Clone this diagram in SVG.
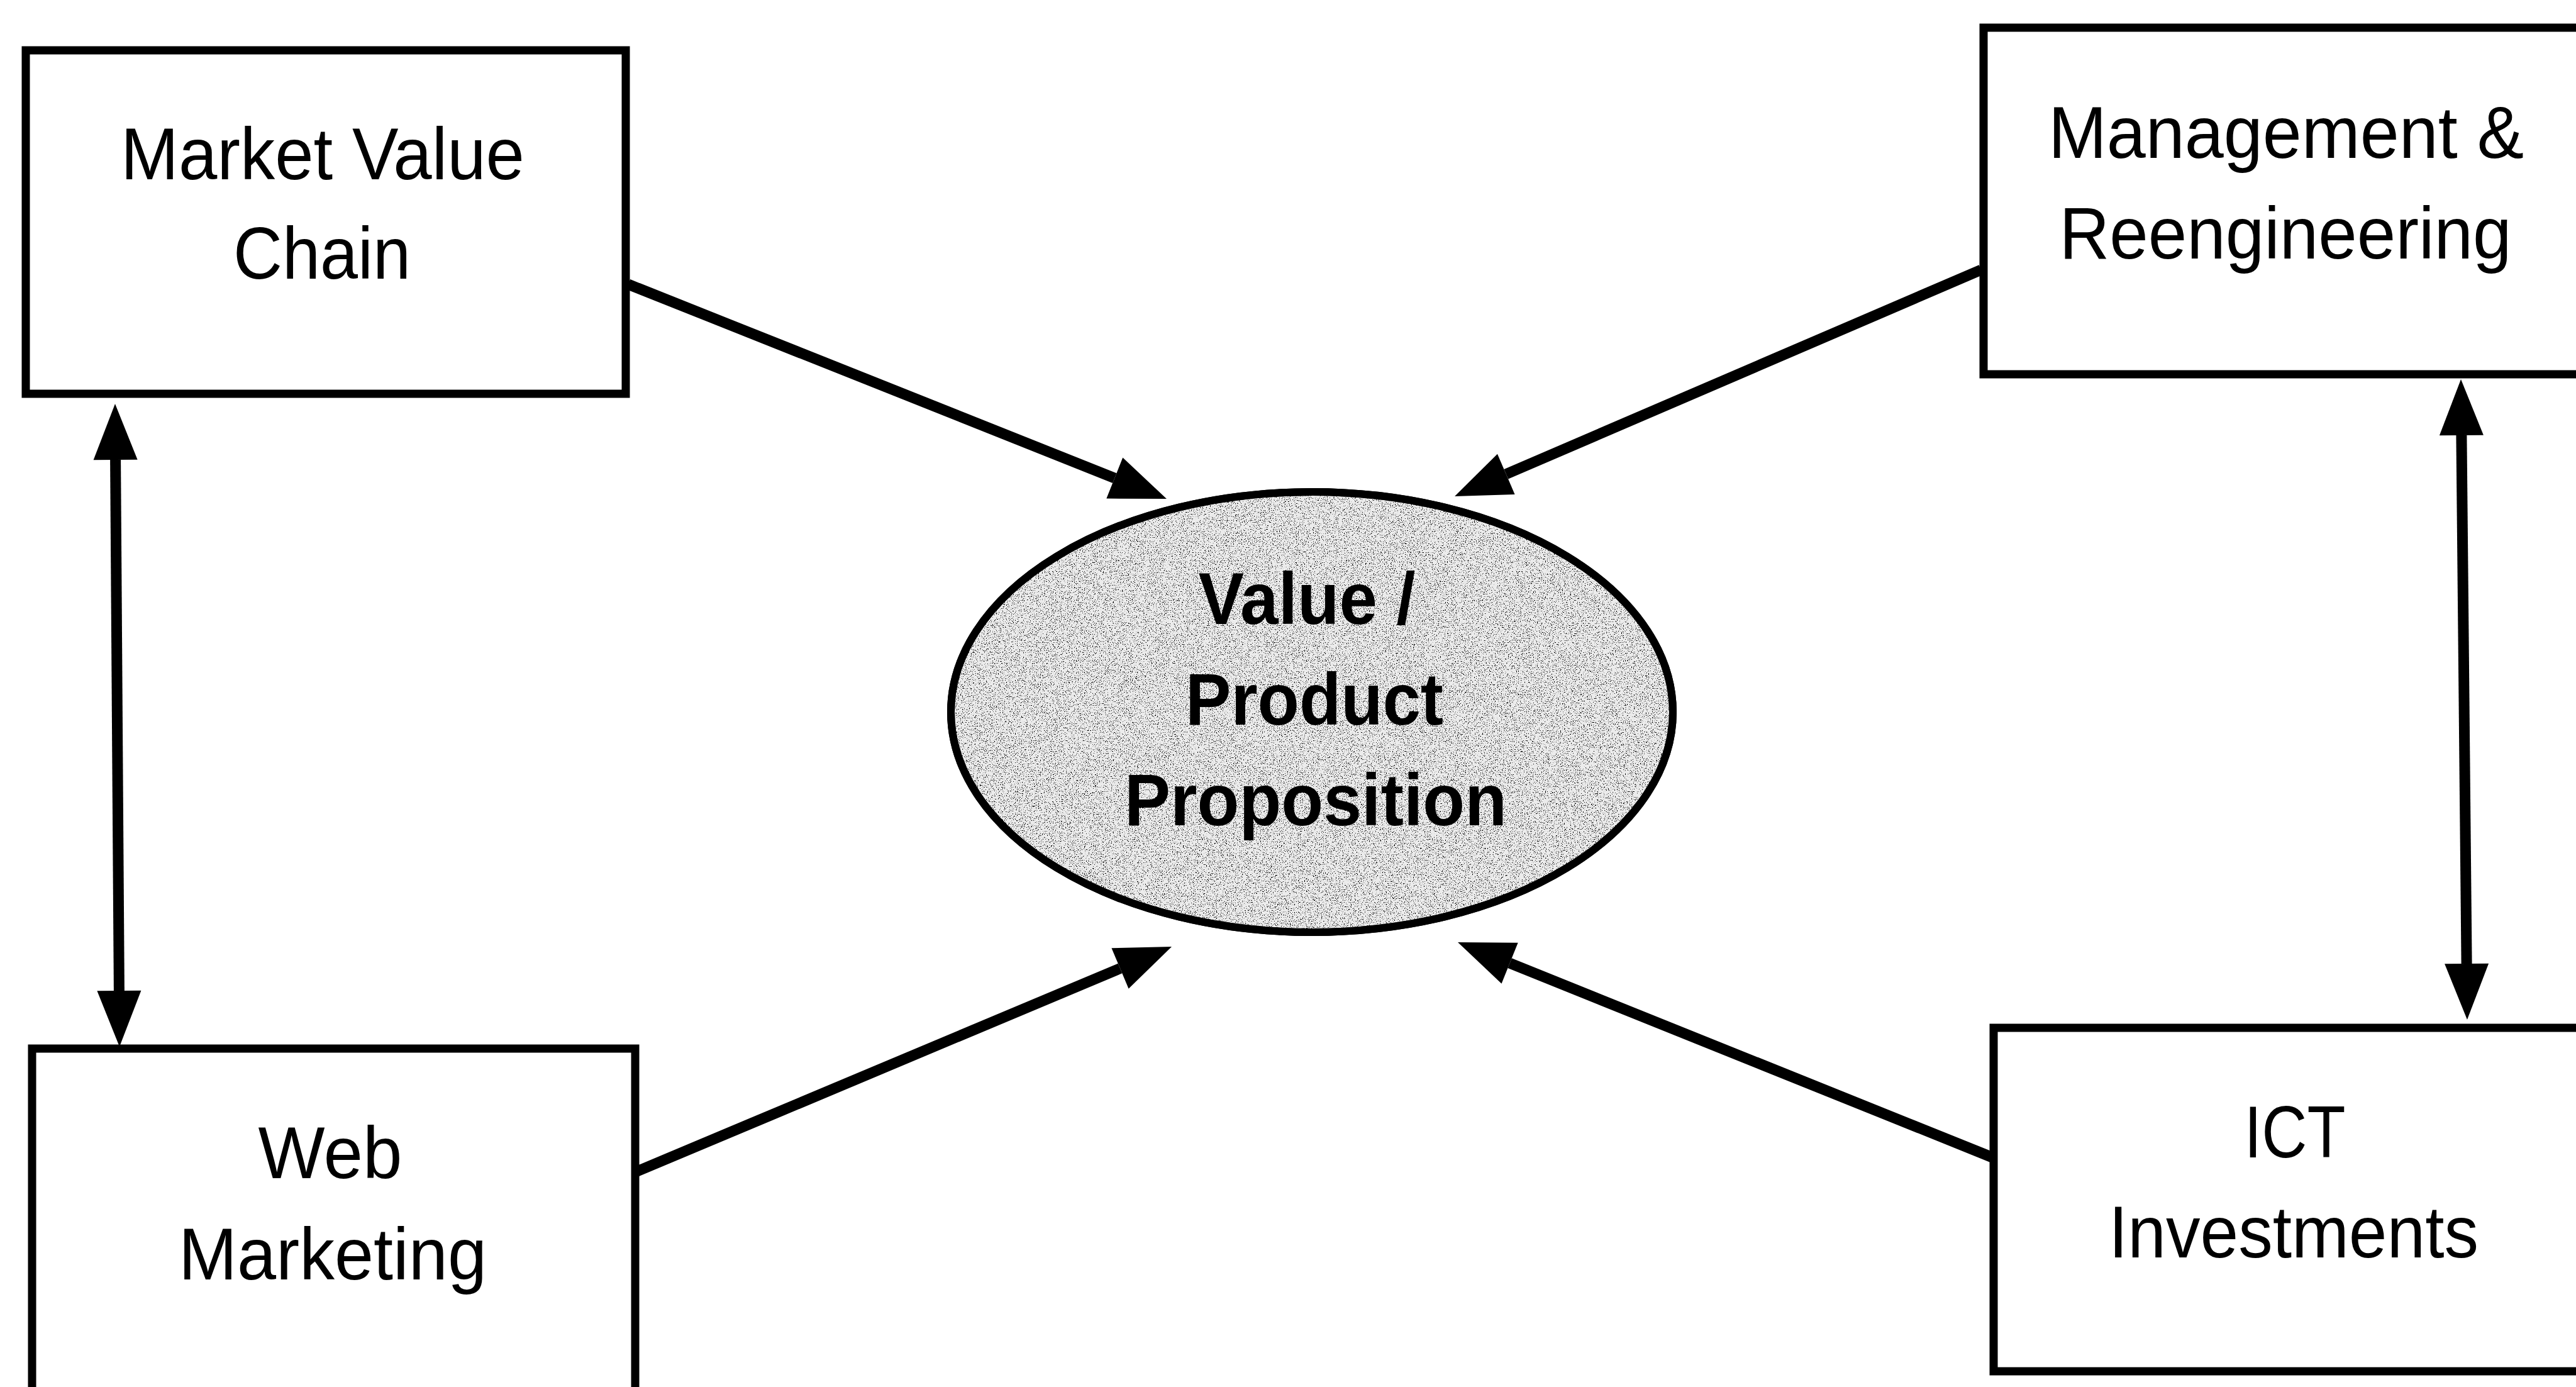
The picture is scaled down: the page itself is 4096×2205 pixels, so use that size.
<svg xmlns="http://www.w3.org/2000/svg" width="4096" height="2205" viewBox="0 0 4096 2205">
<style>
.box{fill:#ffffff;stroke:#000000;stroke-width:13}
.lbl{font-family:"Liberation Sans",Arial,Helvetica,sans-serif;font-size:116px;fill:#000000;text-anchor:middle}
.bold{font-weight:bold;font-size:116px}
.conn{fill:none;stroke:#000000;stroke-width:17;stroke-linecap:butt}
.oval{fill:#ececec;stroke:#000000;stroke-width:12}
</style>
<defs>
<marker id="head" markerUnits="userSpaceOnUse" markerWidth="100" markerHeight="80" refX="0" refY="40" orient="auto-start-reverse" viewBox="0 0 100 80" overflow="visible">
<path d="M0,5 L89,40 L0,75 Z" fill="#000000"/>
</marker>
<filter id="stip" x="0" y="0" width="100%" height="100%">
<feTurbulence type="fractalNoise" baseFrequency="0.7" numOctaves="2" seed="7" result="n"/>
<feColorMatrix in="n" type="matrix" values="0 0 0 0 0  0 0 0 0 0  0 0 0 0 0  10 0 0 0 -6.0" result="d"/>
<feComposite in="d" in2="SourceGraphic" operator="in"/>
</filter>
</defs>
<rect x="0" y="0" width="4096" height="2205" fill="#ffffff"/>

<g id="connectors">
<line class="conn" x1="999" y1="452" x2="1772.3" y2="760.1" marker-end="url(#head)"/>
<line class="conn" x1="3150" y1="429" x2="2394.8" y2="753.8" marker-end="url(#head)"/>
<line class="conn" x1="1011" y1="1863" x2="1781" y2="1539.5" marker-end="url(#head)"/>
<line class="conn" x1="3168" y1="1840" x2="2400.6" y2="1531.2" marker-end="url(#head)"/>
<line class="conn" x1="183.6" y1="731" x2="189.4" y2="1575" marker-start="url(#head)" marker-end="url(#head)"/>
<line class="conn" x1="3913.9" y1="692" x2="3922.1" y2="1532" marker-start="url(#head)" marker-end="url(#head)"/>
</g>

<g id="node-market-value-chain">
<rect class="box" x="41" y="80" width="954" height="546"/>
<text class="lbl" x="513" y="285" textLength="642" lengthAdjust="spacingAndGlyphs">Market Value</text>
<text class="lbl" x="512" y="443" textLength="282" lengthAdjust="spacingAndGlyphs">Chain</text>
</g>

<g id="node-management-reengineering">
<rect class="box" x="3154" y="44" width="960" height="551"/>
<text class="lbl" x="3635" y="251" textLength="756" lengthAdjust="spacingAndGlyphs">Management &amp;</text>
<text class="lbl" x="3634" y="411" textLength="719" lengthAdjust="spacingAndGlyphs">Reengineering</text>
</g>

<g id="node-web-marketing">
<rect class="box" x="51" y="1667" width="959" height="560"/>
<text class="lbl" x="525" y="1873" textLength="229" lengthAdjust="spacingAndGlyphs">Web</text>
<text class="lbl" x="529" y="2034" textLength="490" lengthAdjust="spacingAndGlyphs">Marketing</text>
</g>

<g id="node-ict-investments">
<rect class="box" x="3170" y="1634" width="944" height="546"/>
<text class="lbl" x="3649" y="1840" textLength="161" lengthAdjust="spacingAndGlyphs">ICT</text>
<text class="lbl" x="3647" y="1999" textLength="588" lengthAdjust="spacingAndGlyphs">Investments</text>
</g>

<g id="node-value-product-proposition">
<ellipse class="oval" cx="2086" cy="1132" rx="574" ry="350"/>
<ellipse cx="2086" cy="1132" rx="568" ry="344" fill="#000000" filter="url(#stip)"/>
<ellipse cx="2086" cy="1132" rx="574" ry="350" fill="none" stroke="#000000" stroke-width="12"/>
<text class="lbl bold" x="2078" y="992" textLength="345" lengthAdjust="spacingAndGlyphs">Value /</text>
<text class="lbl bold" x="2090" y="1152" textLength="410" lengthAdjust="spacingAndGlyphs">Product</text>
<text class="lbl bold" x="2092" y="1312" textLength="608" lengthAdjust="spacingAndGlyphs">Proposition</text>
</g>
</svg>
